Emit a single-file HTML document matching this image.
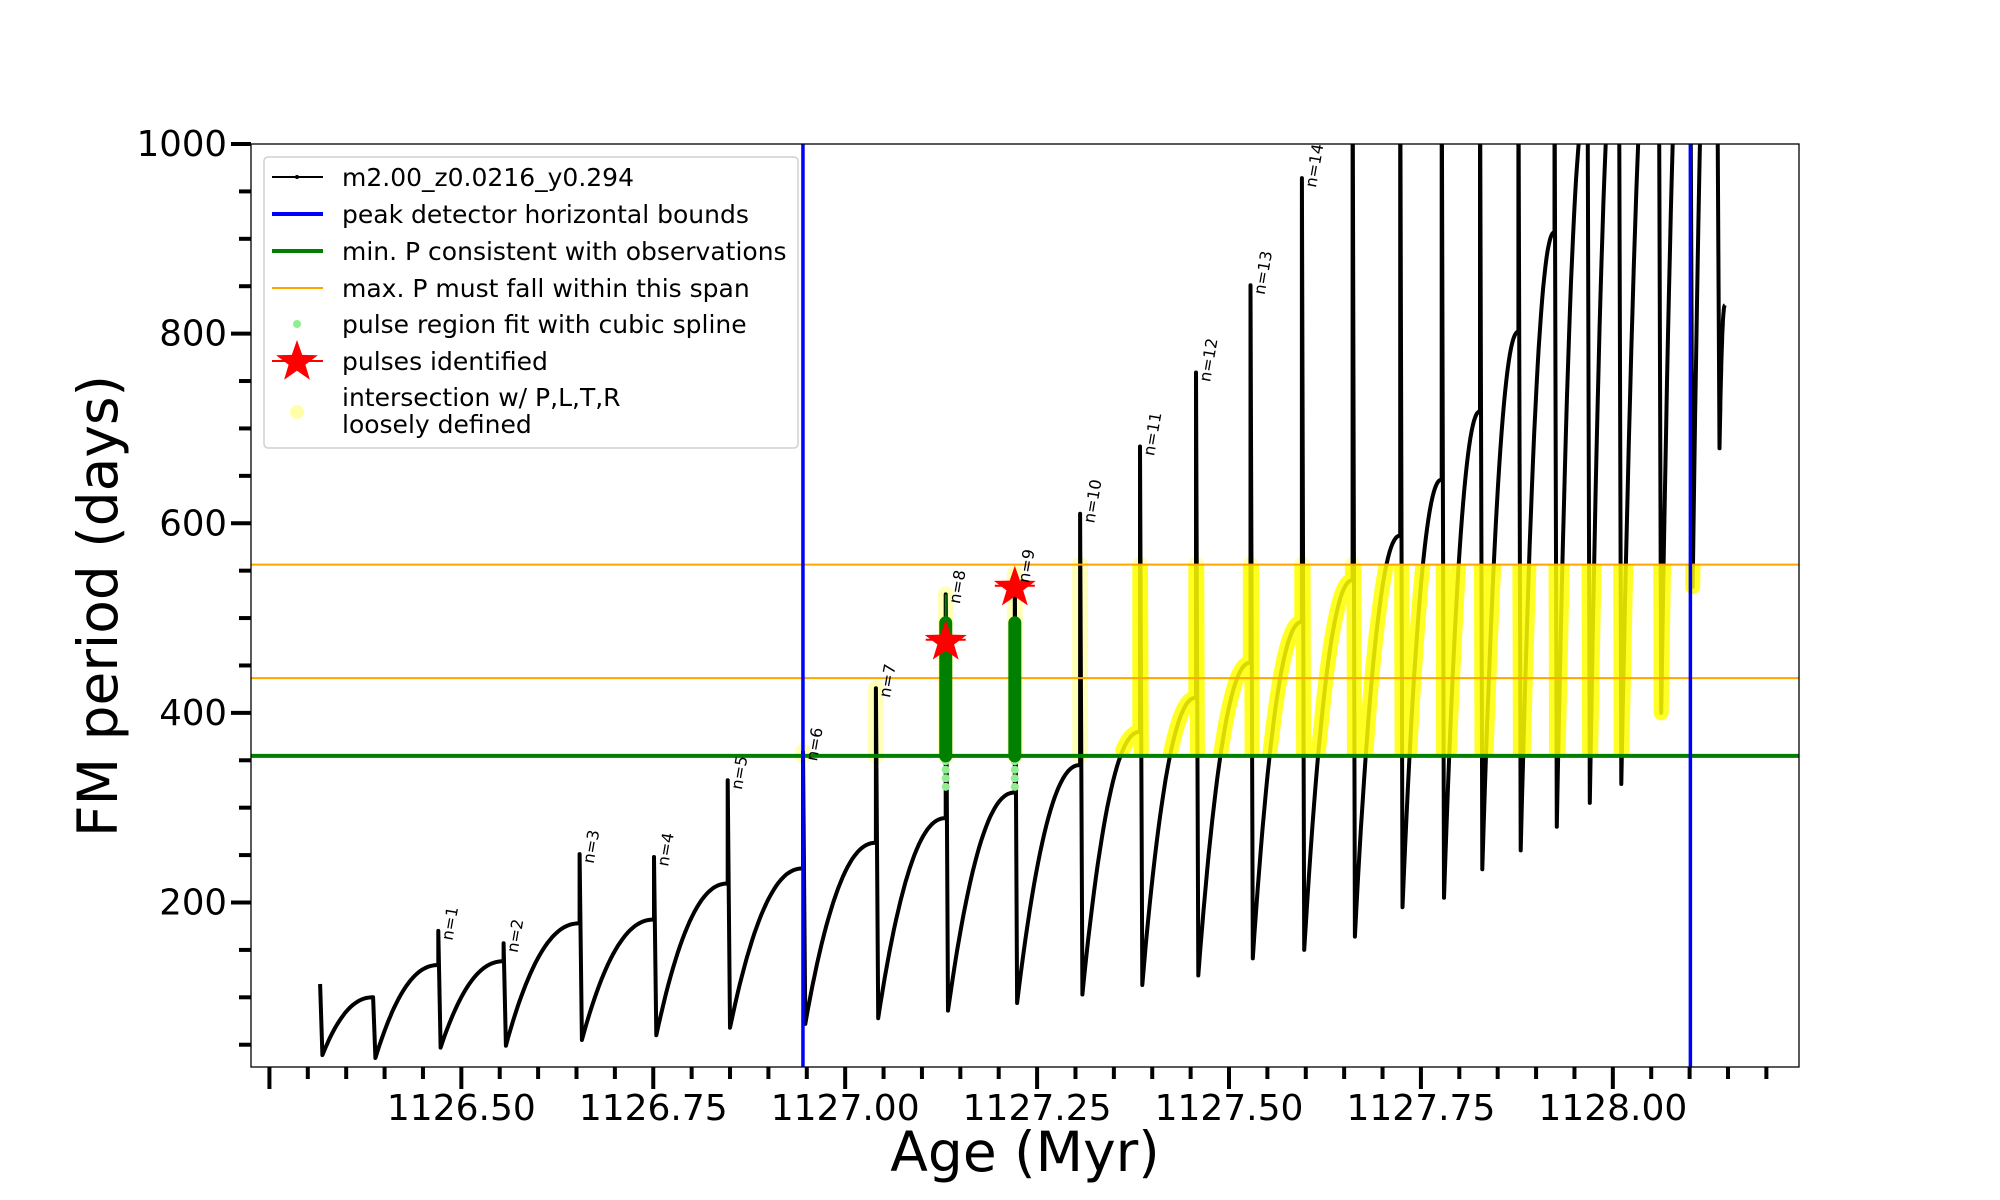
<!DOCTYPE html>
<html><head><meta charset="utf-8"><style>
html,body{margin:0;padding:0;background:#fff;}
svg{display:block;font-family:"DejaVu Sans","Liberation Sans",sans-serif;}
</style></head><body>
<svg id="chart" width="2000" height="1200" viewBox="0 0 2000 1200" xmlns="http://www.w3.org/2000/svg">
<defs>
<clipPath id="axclip"><rect x="251" y="144" width="1548" height="923"/></clipPath>
<clipPath id="bandclip"><rect x="251" y="0" width="1548" height="1200" id="bandrect"/></clipPath>
</defs>
<g id="layer"></g>
</svg>
<script>
// ---- data ----
const pulseAges = [1126.316,1126.385,1126.470,1126.555,1126.654,1126.751,1126.847,1126.945,1127.040,1127.131,1127.221,1127.306,1127.384,1127.457,1127.528,1127.595,1127.661,1127.723,1127.777,1127.827,1127.877,1127.924,1127.967,1128.008,1128.060,1128.101,1128.136];
const preMax   = [114,100,134,138,178,182,220,236,263,289,316,345,380,416,453,496,540,587,646,718,802,907,1050,1150,1250,1300,1400];
const spikeTop = [114,100,170,157,251,248,329,359,426,525,547,610,681,759,851,964,1100,1100,1100,1100,1100,1100,1100,1100,1100,1100,1100];
const postMin  = [39,36,47,49,55,60,68,72,78,86,94,103,113,123,141,150,164,195,205,235,255,280,305,325,400,533,679];
const nLabels  = ["","","n=1","n=2","n=3","n=4","n=5","n=6","n=7","n=8","n=9","n=10","n=11","n=12","n=13","n=14"];
const blueBounds = [1126.945,1128.101];
const minP = 354.6;
const maxPSpan = [436.6,556.3];
const starAges = [1127.131,1127.221];
const starVals = [475,532];
const greenAges = [1127.131,1127.221];
const greenTops = [495,495];
const xTicks = [1126.50,1126.75,1127.00,1127.25,1127.50,1127.75,1128.00];
const yTicks = [200,400,600,800,1000];

// ---- scales ----
const X0=251,X1=1799,Y0=1067,Y1=144;
const xmin=1126.226,xmax=1128.2425,ymin=26.5,ymax=1000;
const X=a=>X0+(a-xmin)/(xmax-xmin)*(X1-X0);
const Y=v=>Y0-(v-ymin)/(ymax-ymin)*(Y0-Y1);
const NS="http://www.w3.org/2000/svg";
const layer=document.getElementById('layer');
function mk(tag,attrs,parent){const e=document.createElementNS(NS,tag);for(const k in attrs)e.setAttribute(k,attrs[k]);(parent||layer).appendChild(e);return e;}

const br=document.getElementById('bandrect');
br.setAttribute('y',Y(maxPSpan[1]));br.setAttribute('height',Y(minP)-Y(maxPSpan[1]));

const pts=[];
for(let i=0;i<pulseAges.length;i++){
  const t=pulseAges[i];
  if(i>0) pts.push([t,preMax[i]]);
  pts.push([t,spikeTop[i]]);
  pts.push([t+0.003,postMin[i]]);
  const tn = i<pulseAges.length-1 ? pulseAges[i+1] : t+0.01;
  const pn = i<pulseAges.length-1 ? preMax[i+1] : 830;
  const t0=t+0.003;
  for(let k=1;k<=30;k++){const u=k/30;pts.push([t0+(tn-t0)*u,postMin[i]+(pn-postMin[i])*(1-Math.pow(1-u,2.2))]);}
}
const ptStr=arr=>arr.map(p=>X(p[0]).toFixed(1)+','+Y(p[1]).toFixed(1)).join(' ');

const plot=mk('g',{'clip-path':'url(#axclip)'});



for(let i=7;i<pulseAges.length;i++){
  const lo=Math.max(preMax[i],minP), hi=Math.min(spikeTop[i],maxPSpan[1]);
  if(hi<lo-1) continue;
  const l=mk('line',{x1:X(pulseAges[i]),x2:X(pulseAges[i]),y1:Y(lo),y2:Y(Math.max(hi,lo+2)),stroke:'#ffff66','stroke-width':16,'stroke-linecap':'round',opacity:0.45},plot);
  
  
}
const line=mk('polyline',{points:ptStr(pts),fill:'none',stroke:'#000','stroke-width':4,'stroke-linejoin':'round'},plot);


const band=mk('g',{'clip-path':'url(#bandclip)'},plot);
const late=pts.filter(p=>p[0]>1127.36);
const yl=mk('polyline',{points:ptStr(late),fill:'none',stroke:'#ffff00','stroke-width':15,'stroke-linejoin':'round','stroke-linecap':'round',opacity:0.85},band);



const gl=mk('line',{x1:X0,x2:X1,y1:Y(minP),y2:Y(minP),stroke:'#008000','stroke-width':4},plot);


maxPSpan.forEach(v=>{const o=mk('line',{x1:X0,x2:X1,y1:Y(v),y2:Y(v),stroke:'#ffa500','stroke-width':2},plot);

});
blueBounds.forEach(a=>{const b=mk('line',{x1:X(a),x2:X(a),y1:Y1,y2:Y0,stroke:'#0000ff','stroke-width':3.5},plot);

});

greenAges.forEach((a,i)=>{
  for(let v=322;v<350;v+=9){const d=mk('circle',{cx:X(a),cy:Y(v),r:4,fill:'#90ee90'},plot);
  
  }
  const g=mk('line',{x1:X(a),x2:X(a),y1:Y(minP),y2:Y(greenTops[i]),stroke:'#008000','stroke-width':13,'stroke-linecap':'round'},plot);
  
  
});
mk('line',{x1:X(greenAges[0]),x2:X(greenAges[0]),y1:Y(495),y2:Y(525),stroke:'#008000','stroke-width':2},plot);
function starPts(cx,cy,R){const r=R*0.4;let s=[];for(let k=0;k<10;k++){const ang=-Math.PI/2+k*Math.PI/5;const rr=k%2?r:R;s.push((cx+rr*Math.cos(ang)).toFixed(1)+','+(cy+rr*Math.sin(ang)).toFixed(1));}return s.join(' ');}
starAges.forEach((a,i)=>{const s=mk('polygon',{points:starPts(X(a),Y(starVals[i]),22),fill:'#ff0000'},plot);


mk('line',{x1:X(a)-20,x2:X(a)+20,y1:Y(starVals[i])-2,y2:Y(starVals[i])-2,stroke:'#ff0000','stroke-width':2},plot);});

nLabels.forEach((t,i)=>{if(!t)return;
  const x=X(pulseAges[i])+14,y=Y(Math.min(spikeTop[i],1000))+10;
  const tx=mk('text',{x:x,y:y,'font-size':16,transform:`rotate(-80 ${x} ${y})`,fill:'#000'});
  tx.textContent=t;
  
  });

const fr=mk('rect',{x:X0,y:Y1,width:X1-X0,height:Y0-Y1,fill:'none',stroke:'#000','stroke-width':1.3});


for(let a=1126.25;a<=1128.2001;a+=0.05){const ar=Math.round(a*100)/100;const maj=Math.abs(ar*4-Math.round(ar*4))<1e-6;
  mk('line',{x1:X(ar),x2:X(ar),y1:Y0,y2:Y0+(maj?22:12),stroke:'#000','stroke-width':4});}
xTicks.forEach(a=>{const t=mk('text',{x:X(a),y:1120,'font-size':36,'text-anchor':'middle',fill:'#000'});t.textContent=a.toFixed(2);

});
for(let v=50;v<=1000;v+=50){const maj=v%200===0;mk('line',{x1:X0-(maj?20:12),x2:X0,y1:Y(v),y2:Y(v),stroke:'#000','stroke-width':4});}
yTicks.forEach(v=>{const t=mk('text',{x:X0-24,y:Y(v)+12,'font-size':35.5,'text-anchor':'end',fill:'#000'});t.textContent=v;

});
const xt=mk('text',{x:1025,y:1171,'font-size':55,'text-anchor':'middle',fill:'#000'});xt.textContent='Age (Myr)';


const yt=mk('text',{x:117,y:606,'font-size':55,'text-anchor':'middle',fill:'#000',transform:'rotate(-90 117 606)'});yt.textContent='FM period (days)';



const lg=mk('g',{});


mk('rect',{x:264,y:157,width:534,height:291,rx:4,fill:'#fff',stroke:'#ccc','stroke-width':1.5,opacity:0.9},lg);
const entries=[['m2.00_z0.0216_y0.294',177],['peak detector horizontal bounds',214],['min. P consistent with observations',251],['max. P must fall within this span',288],['pulse region fit with cubic spline',324],['pulses identified',361],['intersection w/ P,L,T,R',397],['loosely defined',424]];
entries.forEach(e=>{const t=mk('text',{x:342,y:e[1]+9,'font-size':25,fill:'#000'},lg);t.textContent=e[0];

});
mk('line',{x1:272,x2:323,y1:177,y2:177,stroke:'#000','stroke-width':2},lg);
mk('circle',{cx:297,cy:177,r:2,fill:'#000'},lg);
mk('line',{x1:272,x2:323,y1:214,y2:214,stroke:'#0000ff','stroke-width':4},lg);
mk('line',{x1:272,x2:323,y1:251,y2:251,stroke:'#008000','stroke-width':4},lg);
mk('line',{x1:272,x2:323,y1:288,y2:288,stroke:'#ffa500','stroke-width':2},lg);
mk('circle',{cx:297,cy:324,r:4,fill:'#90ee90'},lg);
mk('line',{x1:272,x2:323,y1:361,y2:361,stroke:'#ff0000','stroke-width':2},lg);
mk('polygon',{points:starPts(297,362,22),fill:'#ff0000'},lg);
mk('circle',{cx:297,cy:412,r:7,fill:'#ffffaa'},lg);
</script>
</body></html>
